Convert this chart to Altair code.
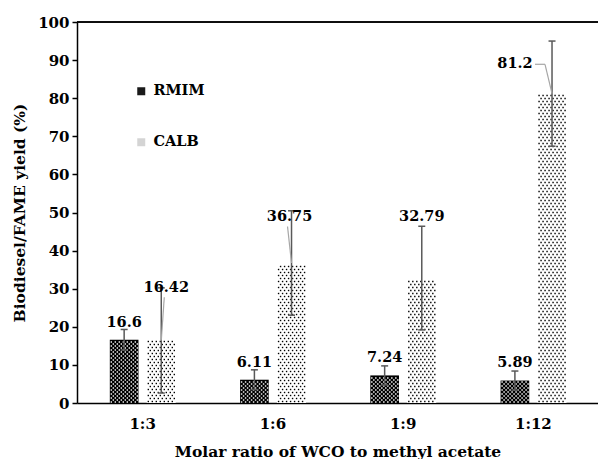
import altair as alt
import pandas as pd

# ---------------- data ----------------
categories = ["1:3", "1:6", "1:9", "1:12"]
series = ["RMIM", "CALB"]
rmim_yield = [16.6, 6.11, 7.24, 5.89]
calb_yield = [16.42, 36.75, 32.79, 81.2]
rmim_err = [2.7, 2.6, 2.5, 2.5]
calb_err = [13.8, 13.7, 13.6, 13.8]
rmim_labels = ["16.6", "6.11", "7.24", "5.89"]
calb_labels = ["16.42", "36.75", "32.79", "81.2"]
# where the value labels sit (y in % units)
rmim_label_y = [20.9, 10.5, 11.8, 10.5]
calb_label_y = [30.1, 48.7, 48.9, 88.9]

# ---------------- layout ----------------
W, H = 521, 381
UX = 4.0 / W      # x data units per pixel
UY = 100.0 / H    # y data units per pixel
FONT = "DejaVu Serif"
bar_span = {"RMIM": (0.252, 0.472), "CALB": (0.536, 0.758)}
calb_label_shift_px = [5, -2, 0, -37]
calb_leader = ["straight", "straight", None, "elbow"]

xs = alt.Scale(domain=[0, 4], nice=False, zero=False)
ys = alt.Scale(domain=[0, 100], nice=False, zero=False)
label_expr = "[" + ",".join("'%s'" % c for c in categories) + "][floor(datum.value)]"
xaxis = alt.Axis(values=[0.5, 1.5, 2.5, 3.5], labelExpr=label_expr, ticks=False,
                 domainColor="black", domainWidth=1.5, labelPadding=13, grid=False,
                 labelFont=FONT, labelFontSize=15, labelFontWeight="bold", labelColor="black",
                 labelOverlap=False,
                 title="Molar ratio of WCO to methyl acetate", titleFont=FONT, titleFontSize=15.5,
                 titleFontWeight="bold", titleColor="black", titleX=W / 2, titleY=53,
                 titleBaseline="alphabetic", titleAlign="center")
yaxis = alt.Axis(values=list(range(0, 101, 10)), tickSize=5, tickColor="black", tickWidth=1.5,
                 domainColor="black", domainWidth=1.5, labelPadding=3, grid=False,
                 labelFont=FONT, labelFontSize=15, labelFontWeight="bold", labelColor="black",
                 labelOverlap=False, labelFlush=False,
                 title="Biodiesel/FAME yield (%)", titleFont=FONT, titleFontSize=15.5,
                 titleFontWeight="bold", titleColor="black", titleX=-58, titleY=H / 2,
                 titleAngle=-90, titleAlign="center", titleBaseline="middle")


def X(f):
    return alt.X(f, type="quantitative", scale=xs, axis=xaxis)


def Y(f):
    return alt.Y(f, type="quantitative", scale=ys, axis=yaxis)


vals = {"RMIM": rmim_yield, "CALB": calb_yield}
errs = {"RMIM": rmim_err, "CALB": calb_err}

bar_rows, err_rows, cap_rows, dot_rows = [], [], [], []
for s in series:
    a, b = bar_span[s]
    for i, c in enumerate(categories):
        v, e = vals[s][i], errs[s][i]
        x0, x1 = i + a, i + b
        xc = (x0 + x1) / 2
        bar_rows.append({"series": s, "x0": x0, "x1": x1, "v": v})
        err_rows.append({"series": s, "xc": xc, "lo": v - e, "hi": v + e})
        for yy in (v - e, v + e):
            cap_rows.append({"xa": xc - 3.5 * UX, "xb": xc + 3.5 * UX, "y": yy})
        # texture dots
        sx, sy = (4.0, 2.0) if s == "RMIM" else (4.0, 3.0)
        x0p, x1p, topp = x0 / UX, x1 / UX, v / UY
        yp, row = sy / 2, 0
        while yp <= topp - 0.7:
            xp = x0p + 1.5 + (sx / 2 if row % 2 else 0)
            while xp <= x1p - 1.0:
                dot_rows.append({"series": s, "x": xp * UX, "y": yp * UY})
                xp += sx
            yp += sy
            row += 1

bars_df = pd.DataFrame(bar_rows)
err_df = pd.DataFrame(err_rows)
cap_df = pd.DataFrame(cap_rows)
dots_df = pd.DataFrame(dot_rows)

lab_rows, lead_rows = [], []
for i in range(4):
    a, b = bar_span["RMIM"]
    lab_rows.append({"t": rmim_labels[i], "x": i + (a + b) / 2, "y": rmim_label_y[i]})
    a, b = bar_span["CALB"]
    xc = i + (a + b) / 2
    lx = xc + calb_label_shift_px[i] * UX
    ly = calb_label_y[i]
    lab_rows.append({"t": calb_labels[i], "x": lx, "y": ly})
    if calb_leader[i] == "straight":
        lead_rows.append({"xa": lx - 2 * UX, "ya": ly - 9 * UY, "xb": xc, "yb": calb_yield[i]})
    elif calb_leader[i] == "elbow":
        xr = lx + 20 * UX
        lead_rows.append({"xa": xr, "ya": ly, "xb": xr + 10 * UX, "yb": ly})
        lead_rows.append({"xa": xr + 10 * UX, "ya": ly, "xb": xc, "yb": calb_yield[i]})
lab_df = pd.DataFrame(lab_rows)
lead_df = pd.DataFrame(lead_rows)

bars = alt.Chart(bars_df).mark_bar(strokeWidth=0).encode(
    x=X("x0"), x2="x1", y=Y("v"), y2=alt.datum(0),
    fill=alt.Fill("series:N", scale=alt.Scale(domain=series, range=["#000000", "#ffffff"]), legend=None),
)
dots = alt.Chart(dots_df).mark_square(size=2.0, opacity=1, strokeWidth=0).encode(
    x=X("x"), y=Y("y"),
    fill=alt.Fill("series:N", scale=alt.Scale(domain=series, range=["#ffffff", "#000000"]), legend=None),
)
errbars = alt.Chart(err_df).mark_rule(color="#595959", strokeWidth=1.5).encode(
    x=X("xc"), y=Y("lo"), y2="hi")
caps = alt.Chart(cap_df).mark_rule(color="#595959", strokeWidth=1.5).encode(
    x=X("xa"), x2="xb", y=Y("y"))
leaders = alt.Chart(lead_df).mark_rule(color="#a6a6a6", strokeWidth=1.2).encode(
    x=X("xa"), x2="xb", y=Y("ya"), y2="yb")
labels = alt.Chart(lab_df).mark_text(font=FONT, fontSize=14.5, fontWeight="bold", color="black",
                                     align="center", baseline="middle").encode(
    x=X("x"), y=Y("y"), text="t:N")

legend_df = pd.DataFrame({"series": series, "x": [0, 0], "y": [0, 0]})
legend_layer = alt.Chart(legend_df).mark_square(opacity=0).encode(
    x=X("x"), y=Y("y"),
    color=alt.Color("series:N", scale=alt.Scale(domain=series, range=["#1a1a1a", "#d4d4d4"]),
                    legend=alt.Legend(title=None, orient="none", legendX=57, legendY=62,
                                      direction="vertical", symbolType="square", symbolSize=64,
                                      symbolOpacity=1, symbolStrokeWidth=0, labelFont=FONT,
                                      labelFontSize=14.5, labelFontWeight="bold", labelColor="black",
                                      rowPadding=36, labelOffset=5)),
)
top_rule = alt.Chart(legend_df).mark_rule(color="black", strokeWidth=1.5).encode(
    x=alt.value(0), x2=alt.value(W),
    y=alt.Y(datum=100, type="quantitative", scale=ys, axis=yaxis))

chart = alt.layer(bars, dots, errbars, caps, leaders, labels, legend_layer, top_rule).resolve_scale(
    fill="independent"
).properties(
    width=W, height=H, autosize="none",
    padding={"left": 77, "top": 22, "right": 0, "bottom": 56},
).configure_view(stroke=None).configure(background="white")

chart.save("out.html", embed_options={"renderer": "svg", "actions": False})
